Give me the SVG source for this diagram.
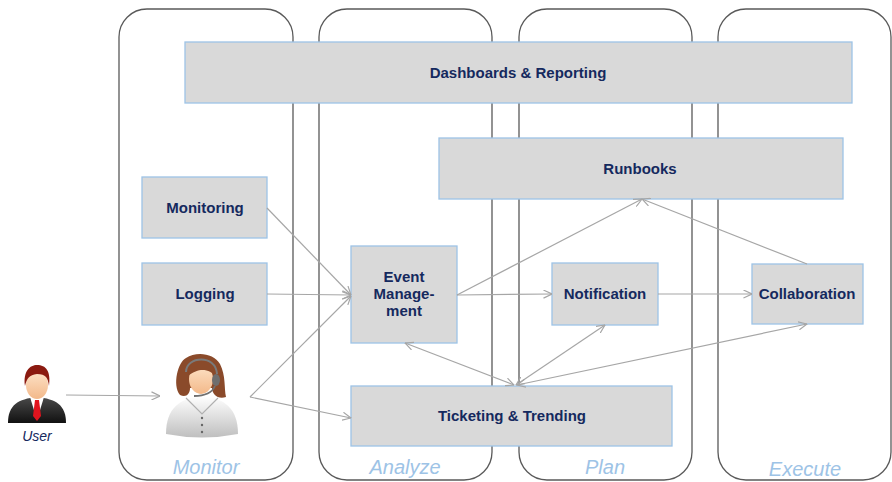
<svg xmlns="http://www.w3.org/2000/svg" width="892" height="482" viewBox="0 0 892 482">
  <defs>
    <style>
      .lane { fill: none; stroke: #595959; stroke-width: 1.3; }
      .box { fill: #d9d9d9; stroke: #9dc3e6; stroke-width: 1.3; }
      .lbl { font-family: "Liberation Sans", Arial, sans-serif; font-weight: bold; font-size: 15px; fill: #15295e; text-anchor: middle; }
      .lane-lbl { font-family: "Liberation Sans", Arial, sans-serif; font-style: italic; font-size: 20px; fill: #9dc3e6; text-anchor: middle; }
      .link { fill: none; stroke: #a6a6a6; stroke-width: 1.2; }
    </style>
    <marker id="arr" viewBox="0 0 10 10" refX="9.5" refY="5" markerWidth="9" markerHeight="9" markerUnits="userSpaceOnUse" orient="auto-start-reverse">
      <path d="M0,0.5 L9.5,5 L0,9.5" fill="none" stroke="#a6a6a6" stroke-width="1.3"/>
    </marker>
    <linearGradient id="shirt" x1="0" y1="0" x2="0" y2="1">
      <stop offset="0" stop-color="#ffffff"/>
      <stop offset="1" stop-color="#bfbfbf"/>
    </linearGradient>
    <linearGradient id="skin" x1="0" y1="0" x2="0" y2="1">
      <stop offset="0" stop-color="#fde3c8"/>
      <stop offset="1" stop-color="#f3b98a"/>
    </linearGradient>
    <linearGradient id="suit" x1="0" y1="0" x2="0" y2="1">
      <stop offset="0" stop-color="#4a4a4a"/>
      <stop offset="1" stop-color="#111111"/>
    </linearGradient>
  </defs>

  <!-- swimlanes -->
  <g id="lanes">
    <rect class="lane" x="119" y="9" width="174" height="471" rx="28"/>
    <rect class="lane" x="319" y="9" width="173" height="471" rx="28"/>
    <rect class="lane" x="519" y="9" width="173" height="471" rx="28"/>
    <rect class="lane" x="718" y="9" width="173" height="471" rx="28"/>
    <text class="lane-lbl" x="206" y="474">Monitor</text>
    <text class="lane-lbl" x="405" y="474">Analyze</text>
    <text class="lane-lbl" x="605" y="474">Plan</text>
    <text class="lane-lbl" x="805" y="476">Execute</text>
  </g>

  <!-- nodes -->
  <g id="dashboards">
    <rect class="box" x="185" y="42" width="667" height="61"/>
    <text class="lbl" x="518" y="78">Dashboards &amp; Reporting</text>
  </g>
  <g id="runbooks">
    <rect class="box" x="439" y="138" width="404" height="61"/>
    <text class="lbl" x="640" y="174">Runbooks</text>
  </g>
  <g id="monitoring">
    <rect class="box" x="142" y="177" width="125" height="61"/>
    <text class="lbl" x="205" y="213">Monitoring</text>
  </g>
  <g id="logging">
    <rect class="box" x="142" y="263" width="125" height="62"/>
    <text class="lbl" x="205" y="299">Logging</text>
  </g>
  <g id="event-management">
    <rect class="box" x="351" y="246" width="106" height="97"/>
    <text class="lbl" x="404" y="282">Event</text>
    <text class="lbl" x="404" y="299">Manage-</text>
    <text class="lbl" x="404" y="316">ment</text>
  </g>
  <g id="notification">
    <rect class="box" x="552" y="263" width="106" height="62"/>
    <text class="lbl" x="605" y="299">Notification</text>
  </g>
  <g id="collaboration">
    <rect class="box" x="752" y="264" width="111" height="60"/>
    <text class="lbl" x="807" y="299">Collaboration</text>
  </g>
  <g id="ticketing">
    <rect class="box" x="351" y="386" width="321" height="60"/>
    <text class="lbl" x="512" y="421">Ticketing &amp; Trending</text>
  </g>

  <!-- user figure -->
  <g id="user">
    <path d="M8,423 C8,405 18,399 37,397 C56,399 66,405 66,423 Z" fill="url(#suit)"/>
    <path d="M30,397 L37,420 L44,397 Z" fill="#ffffff"/>
    <path d="M35,400 L39,400 L41,416 L37,421 L33,416 Z" fill="#e0141e"/>
    <ellipse cx="37" cy="385" rx="11" ry="14" fill="url(#skin)"/>
    <path d="M25,386 C23,371 30,365 37,365 C46,365 51,371 49,386 C48,378 46,374 37,374 C29,375 27,378 25,386 Z" fill="#8b1a10"/>
    <text x="37" y="441" font-family="Liberation Sans, Arial, sans-serif" font-style="italic" font-size="14" fill="#15295e" text-anchor="middle">User</text>
  </g>

  <!-- monitoring operator figure -->
  <g id="operator">
    <path d="M166,434 C166,408 180,398 202,396 C224,398 238,408 238,434 Q202,441 166,434 Z" fill="url(#shirt)"/>
    <path d="M186,398 L202,414 L218,398" fill="none" stroke="#b0b0b0" stroke-width="1.2"/>
    <circle cx="202" cy="418" r="1.2" fill="#666"/>
    <circle cx="202" cy="425" r="1.2" fill="#666"/>
    <circle cx="202" cy="432" r="1.2" fill="#666"/>
    <path d="M180,395 C172,385 178,362 186,358 C196,351 214,353 220,364 C226,376 224,388 226,397 C218,400 212,394 212,388 L190,388 C190,394 186,398 180,395 Z" fill="#8a4a2a"/>
    <ellipse cx="201" cy="379" rx="12" ry="15" fill="url(#skin)"/>
    <path d="M188,376 C188,364 194,360 204,360 C212,361 216,368 216,376 C210,370 200,366 188,376 Z" fill="#8a4a2a"/>
    <path d="M186,372 C186,356 216,354 217,374" fill="none" stroke="#7a7a7a" stroke-width="2"/>
    <ellipse cx="216" cy="380" rx="4" ry="6" fill="#6e6e6e"/>
    <path d="M215,386 C212,393 204,396 194,396" fill="none" stroke="#707070" stroke-width="1.8"/>
  </g>

  <!-- connectors -->
  <g id="connectors">
    <line class="link" x1="66" y1="395" x2="160" y2="396" marker-end="url(#arr)"/>
    <line class="link" x1="267" y1="208" x2="351" y2="295" marker-end="url(#arr)"/>
    <line class="link" x1="267" y1="294" x2="351" y2="295" marker-end="url(#arr)"/>
    <line class="link" x1="250" y1="397" x2="351" y2="296" marker-end="url(#arr)"/>
    <line class="link" x1="250" y1="397" x2="351" y2="418" marker-end="url(#arr)"/>
    <line class="link" x1="457" y1="295" x2="552" y2="294" marker-end="url(#arr)"/>
    <line class="link" x1="457" y1="295" x2="642" y2="199" marker-end="url(#arr)"/>
    <line class="link" x1="807" y1="264" x2="642" y2="199" marker-end="url(#arr)"/>
    <line class="link" x1="658" y1="294" x2="752" y2="294" marker-end="url(#arr)"/>
    <line class="link" x1="514" y1="385" x2="405" y2="343" marker-start="url(#arr)" marker-end="url(#arr)"/>
    <line class="link" x1="516" y1="385" x2="605" y2="325" marker-start="url(#arr)" marker-end="url(#arr)"/>
    <line class="link" x1="517" y1="385" x2="807" y2="324" marker-start="url(#arr)" marker-end="url(#arr)"/>
  </g>
</svg>
